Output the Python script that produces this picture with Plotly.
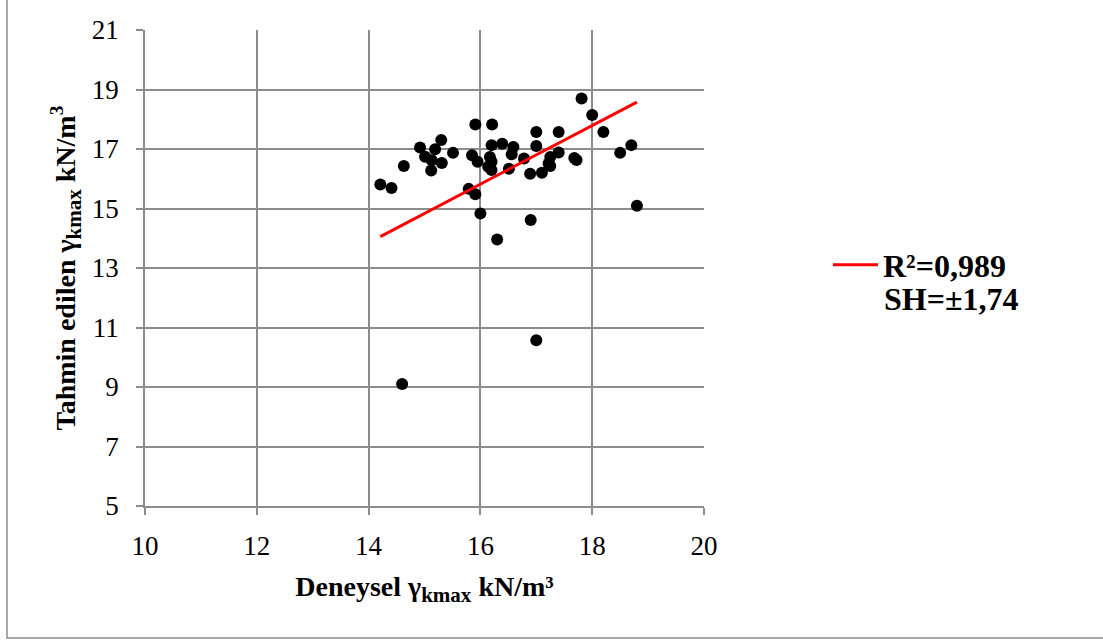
import plotly.graph_objects as go

# Deneysel (measured) vs. tahmin edilen (predicted) maximum dry unit weight, kN/m3
deneysel = [14.21, 14.41, 14.63, 14.92, 15.01, 15.13, 15.12, 15.19, 15.30, 15.31,
            15.51, 15.79, 15.91, 15.85, 15.91, 15.95, 16.00, 16.21, 16.20, 16.17,
            16.20, 16.14, 16.20, 16.30, 16.39, 16.59, 16.56, 16.51, 16.78, 16.89,
            16.90, 17.00, 17.00, 17.00, 17.10, 17.22, 17.25, 17.40, 17.40, 17.68,
            17.72, 17.81, 18.00, 18.20, 18.50, 18.70, 18.80, 14.60, 17.25]
tahmin = [15.81, 15.69, 16.43, 17.05, 16.74, 16.62, 16.28, 16.99, 17.30, 16.53,
          16.87, 15.66, 15.48, 16.79, 17.82, 16.57, 14.83, 17.82, 17.13, 16.73,
          16.57, 16.40, 16.29, 13.96, 17.18, 17.07, 16.82, 16.34, 16.68, 16.17,
          14.61, 17.57, 17.10, 10.57, 16.20, 16.51, 16.73, 17.57, 16.88, 16.70,
          16.63, 18.70, 18.14, 17.57, 16.87, 17.13, 15.09, 9.10, 16.43]

# Trend line coefficients and its statistics
egim = 0.985
kesen = 0.06
r2_text = "R²=0,989"
sh_text = "SH=±1,74"

x_ticks = [10, 12, 14, 16, 18, 20]
y_ticks = [5, 7, 9, 11, 13, 15, 17, 19, 21]

x_line = [min(deneysel), max(deneysel)]
y_line = [egim * v + kesen for v in x_line]

fig = go.Figure()
fig.add_trace(go.Scatter(
    x=deneysel, y=tahmin, mode="markers",
    marker=dict(color="black", size=12, line=dict(width=0)),
    showlegend=False,
))
fig.add_trace(go.Scatter(
    x=x_line, y=y_line, mode="lines",
    line=dict(color="#ff0000", width=3),
    name=f"<b>{r2_text}</b>", showlegend=True,
))

grid = "#8c8c8c"
font_family = "Liberation Serif, Times New Roman, serif"

L, R, T, B = 145, 399, 30, 135
W, H = 1103 - L - R, 641 - T - B

sub = '<sub><span style="font-size:21px">kmax</span></sub>'

fig.update_layout(
    width=1103, height=641,
    margin=dict(l=L, r=R, t=T, b=B),
    paper_bgcolor="white", plot_bgcolor="white",
    font=dict(family=font_family, color="black", size=27),
    xaxis=dict(
        range=[10, 20], tickvals=x_ticks, ticktext=[str(v) for v in x_ticks],
        showgrid=True, gridcolor=grid, gridwidth=1.5,
        showline=True, linecolor=grid, linewidth=1.5,
        ticks="outside", ticklen=7, tickcolor=grid, tickwidth=1.5,
        ticklabelstandoff=8,
        zeroline=False,
        tickfont=dict(size=27),
        title=dict(text=f"<b>Deneysel γ{sub} kN/m³</b>",
                   font=dict(size=28), standoff=16),
    ),
    yaxis=dict(
        range=[5, 21], tickvals=y_ticks, ticktext=[str(v) for v in y_ticks],
        showgrid=True, gridcolor=grid, gridwidth=1.5,
        showline=True, linecolor=grid, linewidth=1.5,
        ticks="outside", ticklen=7, tickcolor=grid, tickwidth=1.5,
        ticklabelstandoff=12,
        zeroline=False,
        tickfont=dict(size=27),
        title=dict(text=f"<b>Tahmin edilen γ{sub} kN/m<sup>3</sup></b>",
                   font=dict(size=28), standoff=8),
    ),
    legend=dict(
        x=(828 - L) / W, y=(T + H - 265) / H, xanchor="left", yanchor="middle",
        font=dict(size=32, family=font_family),
        itemwidth=45,
        bgcolor="rgba(0,0,0,0)", borderwidth=0,
    ),
    annotations=[dict(
        text=f"<b>{sh_text}</b>", xref="paper", yref="paper",
        x=(882 - L) / W, y=(T + H - 299) / H, xanchor="left", yanchor="middle",
        showarrow=False, font=dict(size=32, family=font_family, color="black"),
    )],
    shapes=[dict(
        type="rect", xref="paper", yref="paper",
        x0=(7 - L) / W, x1=(1110 - L) / W,
        y0=(T + H - 638) / H, y1=(T + H + 10) / H,
        line=dict(color="#8c8c8c", width=1.5), fillcolor="rgba(0,0,0,0)",
        layer="below",
    )],
)

fig.write_html("out.html")
